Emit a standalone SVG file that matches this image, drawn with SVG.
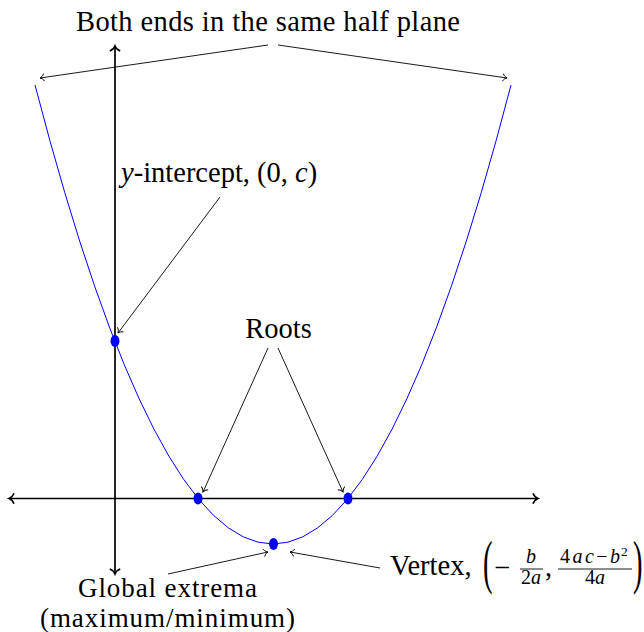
<svg xmlns="http://www.w3.org/2000/svg" width="644" height="632" viewBox="0 0 644 632">
  <style>
    text { font-family: "Liberation Serif", "DejaVu Serif", serif; font-size: 28.5px; fill: #000; }
    .it { font-style: italic; }
    .sm { font-size: 20px; }
    .sup { font-size: 13.5px; }
    .ext { font-size: 27px; }
    .axis { stroke: #000; stroke-width: 1.7; fill: none; }
    .conn { stroke: #000; stroke-width: 0.9; fill: none; marker-end: url(#to); }
    .dot { fill: #0000ff; }
    .curve { stroke: #0000ff; stroke-width: 1; fill: none; }
    .bar { stroke: #000; stroke-width: 0.9; }
  </style>
  <defs>
    <marker id="to" markerUnits="userSpaceOnUse" viewBox="-6 -6 8 12" refX="0" refY="0" markerWidth="8" markerHeight="12" orient="auto" overflow="visible">
      <path d="M-4.2,-3.8 C-3.2,-1.6 -1.2,-0.4 0,0 C-1.2,0.4 -3.2,1.6 -4.2,3.8" stroke="#000" stroke-width="0.9" fill="none"/>
    </marker>
    <marker id="axto" markerUnits="userSpaceOnUse" viewBox="-8 -8 10 16" refX="0" refY="0" markerWidth="10" markerHeight="16" orient="auto-start-reverse" overflow="visible">
      <path d="M-5,-5.2 C-3.8,-2.2 -1.4,-0.5 0,0 C-1.4,0.5 -3.8,2.2 -5,5.2" stroke="#000" stroke-width="1.6" fill="none"/>
    </marker>
  </defs>

  <g id="axes">
    <line class="axis" x1="9" y1="498.5" x2="538" y2="498.5" marker-start="url(#axto)" marker-end="url(#axto)"/>
    <line class="axis" x1="115" y1="574" x2="115" y2="46" marker-start="url(#axto)" marker-end="url(#axto)"/>
  </g>

  <g id="parabola">
    <path class="curve" d="M35,85 Q273,1003 511,85"/>
  </g>

  <g id="connectors">
    <line class="conn" x1="268" y1="45" x2="40" y2="78"/>
    <line class="conn" x1="278" y1="45" x2="507" y2="78"/>
    <line class="conn" x1="220" y1="197" x2="118" y2="333"/>
    <line class="conn" x1="268" y1="348" x2="203" y2="492"/>
    <line class="conn" x1="278" y1="348" x2="343" y2="492"/>
    <line class="conn" x1="168" y1="574" x2="268" y2="552"/>
    <line class="conn" x1="380" y1="568" x2="290" y2="552"/>
  </g>

  <g id="dot-yintercept"><ellipse class="dot" cx="115" cy="341" rx="4.5" ry="6"/></g>
  <g id="dot-root1"><ellipse class="dot" cx="198" cy="498.5" rx="4.5" ry="6"/></g>
  <g id="dot-root2"><ellipse class="dot" cx="348" cy="498.5" rx="4.5" ry="6"/></g>
  <g id="dot-vertex"><ellipse class="dot" cx="273.5" cy="544" rx="4.5" ry="6"/></g>

  <g id="label-ends">
    <text x="268" y="31" text-anchor="middle" textLength="384" lengthAdjust="spacing" font-family="Liberation Serif, serif">Both ends in the same half plane</text>
  </g>

  <g id="label-yintercept">
    <text x="121" y="182" font-family="Liberation Serif, serif"><tspan class="it">y</tspan>-intercept, (0, <tspan class="it">c</tspan>)</text>
  </g>

  <g id="label-roots">
    <text x="278.5" y="338" text-anchor="middle" font-family="Liberation Serif, serif">Roots</text>
  </g>

  <g id="label-extrema" font-family="Liberation Serif, serif">
    <text class="ext" x="167.5" y="597" text-anchor="middle" textLength="179" lengthAdjust="spacing">Global extrema</text>
    <text class="ext" x="167.5" y="627" text-anchor="middle" textLength="255" lengthAdjust="spacing">(maximum/minimum)</text>
  </g>

  <g id="label-vertex" font-family="Liberation Serif, serif">
    <text x="390" y="575">Vertex,</text>
    <text transform="translate(483,582) scale(1,2.05)">(</text>
    <text x="494" y="577">−</text>
    <text class="sm it" x="531" y="563" text-anchor="middle">b</text>
    <line class="bar" x1="520" y1="569" x2="543" y2="569"/>
    <text class="sm" x="531" y="584" text-anchor="middle">2<tspan class="it">a</tspan></text>
    <text x="545" y="576">,</text>
    <text class="sm" x="560" y="563" textLength="60" lengthAdjust="spacing">4<tspan class="it">ac</tspan>−<tspan class="it">b</tspan></text>
    <text class="sup" x="621" y="556">2</text>
    <line class="bar" x1="558" y1="569" x2="632" y2="569"/>
    <text class="sm" x="595" y="584" text-anchor="middle">4<tspan class="it">a</tspan></text>
    <text transform="translate(633,582) scale(1,2.05)">)</text>
  </g>
</svg>
